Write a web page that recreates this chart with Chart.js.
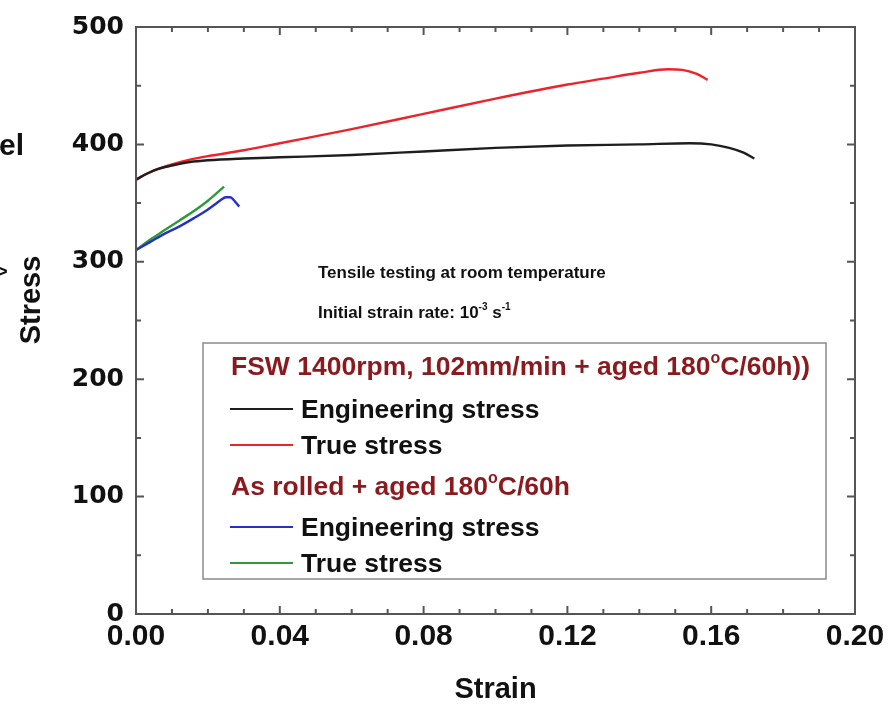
<!DOCTYPE html>
<html>
<head>
<meta charset="utf-8">
<script src="https://cdn.jsdelivr.net/npm/chart.js@4.4.1/dist/chart.umd.min.js"></script>
<style>
  html, body { margin: 0; padding: 0; background: #fff; }
  #area { width: 895px; height: 709px; }
</style>
</head>
<body>
<div id="area"><canvas id="grafico" width="895" height="709"></canvas></div>
<script>
// FSW 1400rpm, 102mm/min + aged
const fswEngStrain = [0, 0.003, 0.006, 0.01, 0.015, 0.02, 0.03, 0.04, 0.06, 0.08, 0.10, 0.12, 0.14, 0.154, 0.16, 0.165, 0.169, 0.172];
const fswEngStress = [370, 375, 379, 382, 385, 386.5, 388, 389, 391, 394, 397, 399, 400, 401, 400, 397, 393, 388];
const fswTrueStrain = [0, 0.003, 0.006, 0.01, 0.015, 0.02, 0.03, 0.04, 0.06, 0.08, 0.10, 0.12, 0.13, 0.14, 0.148, 0.152, 0.156, 0.159];
const fswTrueStress = [370, 375, 379, 383, 387, 390, 395, 401, 413, 426, 439, 451, 456, 461, 464, 463.5, 460, 455];

// As rolled + aged
const rolledEngStrain = [0, 0.004, 0.008, 0.012, 0.016, 0.02, 0.022, 0.0235, 0.025, 0.0262, 0.0275, 0.0287];
const rolledEngStress = [310, 317, 324, 330, 337, 344.5, 349, 352.5, 355, 355, 351.5, 347];
const rolledTrueStrain = [0, 0.004, 0.008, 0.012, 0.016, 0.02, 0.0245];
const rolledTrueStress = [310, 319, 327, 335, 343, 352, 364];

const xTicks = [0, 0.04, 0.08, 0.12, 0.16, 0.20];
const yTicks = [0, 100, 200, 300, 400, 500];

const corPreta = "#1e1e1e";
const corVermelha = "#ee2229";
const corAzul = "#2430c8";
const corVerde = "#2e9a3c";
const corTitulo = "#8b1a1f";

function pontos(xs, ys) {
  let lista = [];
  for (let i = 0; i < xs.length; i++) {
    lista.push({ x: xs[i], y: ys[i] });
  }
  return lista;
}

function escreverPartes(ctx, partes, x, y, tamanho) {
  // partes: [texto, sobrescrito?]
  for (let p of partes) {
    if (p[1]) {
      ctx.font = "bold " + Math.round(tamanho * 0.6) + "px 'Liberation Sans', Arial";
      ctx.fillText(p[0], x, y - tamanho * 0.45);
    } else {
      ctx.font = "bold " + tamanho + "px 'Liberation Sans', Arial";
      ctx.fillText(p[0], x, y);
    }
    x += ctx.measureText(p[0]).width;
  }
}

const moldura = {
  id: "moldura",
  afterDraw(chart) {
    let ctx = chart.ctx;
    let a = chart.chartArea;
    let sx = chart.scales.x;
    let sy = chart.scales.y;
    ctx.save();

    // caixa e marcas internas
    ctx.strokeStyle = "#555";
    ctx.lineWidth = 2;
    ctx.strokeRect(a.left, a.top, a.right - a.left, a.bottom - a.top);
    ctx.beginPath();
    for (let i = 0; i <= 20; i++) {
      let px = sx.getPixelForValue(i / 100);
      let t = i % 4 == 0 ? 8 : 5;
      ctx.moveTo(px, a.bottom); ctx.lineTo(px, a.bottom - t);
      ctx.moveTo(px, a.top); ctx.lineTo(px, a.top + t);
    }
    for (let i = 0; i <= 10; i++) {
      let py = sy.getPixelForValue(i * 50);
      let t = i % 2 == 0 ? 8 : 5;
      ctx.moveTo(a.left, py); ctx.lineTo(a.left + t, py);
      ctx.moveTo(a.right, py); ctx.lineTo(a.right - t, py);
    }
    ctx.stroke();

    // titulo do eixo y
    ctx.save();
    ctx.translate(32, 300);
    ctx.rotate(-Math.PI / 2);
    ctx.fillStyle = "#111";
    ctx.textAlign = "center";
    ctx.textBaseline = "middle";
    ctx.font = "bold 29px 'Liberation Sans', Arial";
    ctx.fillText("Stress", 0, 0);
    ctx.restore();

    // anotacao
    ctx.fillStyle = "#111";
    ctx.textBaseline = "alphabetic";
    ctx.textAlign = "left";
    escreverPartes(ctx, [["Tensile testing at room temperature", false]], 318, 278, 17);
    escreverPartes(ctx, [["Initial strain rate: 10", false], ["-3", true], [" s", false], ["-1", true]], 318, 318, 17);

    // legenda
    ctx.strokeStyle = "#8a8a8a";
    ctx.lineWidth = 1.5;
    ctx.strokeRect(203, 343, 623, 236);

    let linhas = [
      { y: 366, titulo: [["FSW 1400rpm, 102mm/min + aged 180", false], ["o", true], ["C/60h))", false]] },
      { y: 409, cor: corPreta, texto: "Engineering stress" },
      { y: 445, cor: corVermelha, texto: "True stress" },
      { y: 486, titulo: [["As rolled + aged 180", false], ["o", true], ["C/60h", false]] },
      { y: 527, cor: corAzul, texto: "Engineering stress" },
      { y: 563, cor: corVerde, texto: "True stress" }
    ];
    for (let l of linhas) {
      if (l.titulo) {
        ctx.fillStyle = corTitulo;
        escreverPartes(ctx, l.titulo, 231, l.y + 9, 26.5);
      } else {
        ctx.strokeStyle = l.cor;
        ctx.lineWidth = 2.2;
        ctx.beginPath();
        ctx.moveTo(230, l.y);
        ctx.lineTo(293, l.y);
        ctx.stroke();
        ctx.fillStyle = "#111";
        escreverPartes(ctx, [[l.texto, false]], 301, l.y + 9, 26.5);
      }
    }

    // restos de texto cortado na borda esquerda
    ctx.fillStyle = "#111";
    escreverPartes(ctx, [["el", false]], -1, 155, 30);
    ctx.font = "bold 20px 'Liberation Sans', Arial";
    ctx.fillText(">", -4, 278);

    ctx.restore();
  }
};

let ctx = document.getElementById("grafico");

new Chart(ctx, {
  type: "line",
  data: {
    datasets: [
      { label: "FSW Engineering stress", data: pontos(fswEngStrain, fswEngStress), borderColor: corPreta },
      { label: "FSW True stress", data: pontos(fswTrueStrain, fswTrueStress), borderColor: corVermelha },
      { label: "As rolled Engineering stress", data: pontos(rolledEngStrain, rolledEngStress), borderColor: corAzul },
      { label: "As rolled True stress", data: pontos(rolledTrueStrain, rolledTrueStress), borderColor: corVerde }
    ]
  },
  options: {
    responsive: false,
    animation: false,
    events: [],
    elements: {
      point: { radius: 0 },
      line: { borderWidth: 2.4, tension: 0, cubicInterpolationMode: "monotone", fill: false }
    },
    layout: { padding: { top: 23, right: 40, left: 0, bottom: 0 } },
    plugins: { legend: { display: false }, tooltip: { enabled: false } },
    scales: {
      x: {
        type: "linear",
        min: 0,
        max: 0.2,
        afterFit: (s) => { s.height = 95; },
        afterBuildTicks: (s) => { s.ticks = xTicks.map(v => ({ value: v })); },
        grid: { display: false, drawTicks: false },
        border: { display: false },
        ticks: {
          padding: 5,
          color: "#111",
          font: { family: "'Liberation Sans', Arial", size: 30, weight: "bold" },
          callback: (v) => v.toFixed(2)
        },
        title: {
          display: true,
          text: "Strain",
          color: "#111",
          padding: { top: 0, bottom: 2 },
          font: { family: "'Liberation Sans', Arial", size: 29, weight: "bold" }
        }
      },
      y: {
        type: "linear",
        min: 0,
        max: 500,
        afterFit: (s) => { s.width = 136; },
        afterBuildTicks: (s) => { s.ticks = yTicks.map(v => ({ value: v })); },
        grid: { display: false, drawTicks: false },
        border: { display: false },
        ticks: {
          padding: 12,
          color: "#111",
          font: { family: "'DejaVu Sans'", size: 25, weight: "bold" }
        },
        title: { display: false }
      }
    }
  },
  plugins: [moldura]
});
</script>
</body>
</html>
